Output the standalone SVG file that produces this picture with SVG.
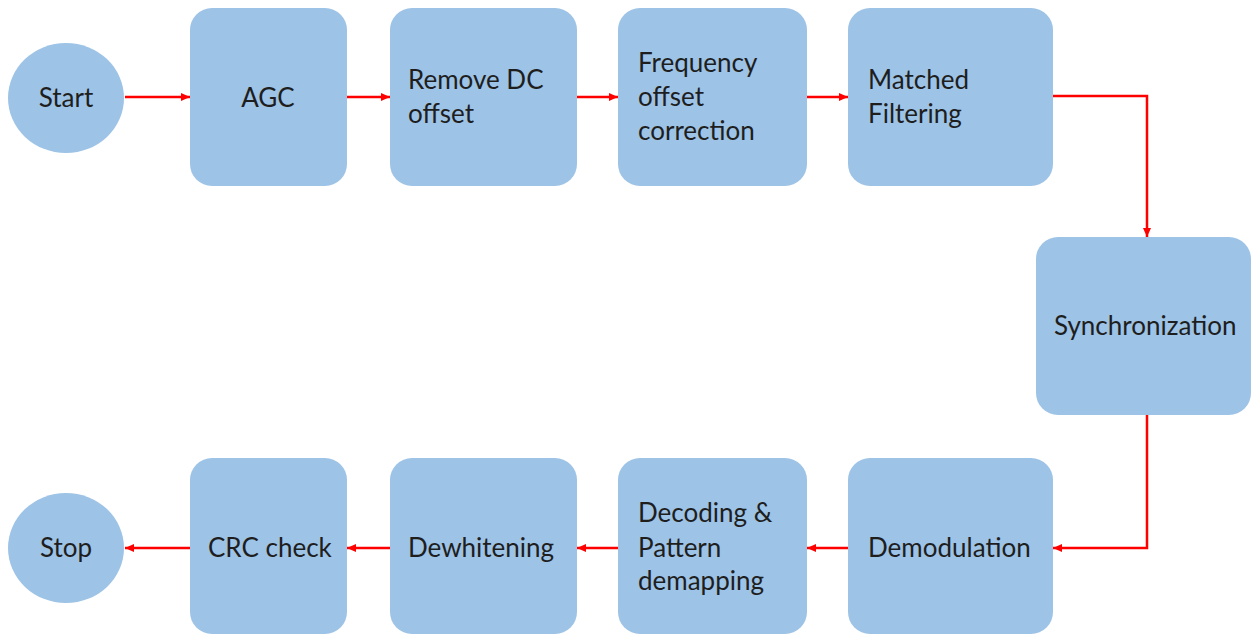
<svg xmlns="http://www.w3.org/2000/svg" width="1252" height="635" viewBox="0 0 1252 635">
<style>
.n{fill:#9DC3E6;}
.t{font-family:Lato,"Liberation Sans",sans-serif;font-size:26px;fill:#1E1E1E;}
.c{fill:none;stroke:#FF0000;stroke-width:2.5;marker-end:url(#ah);}
</style>
<defs>
<marker id="ah" markerUnits="userSpaceOnUse" markerWidth="10" markerHeight="10" refX="9" refY="5" orient="auto">
<path d="M0,1 L9,5 L0,9 Z" fill="#FF0000"/>
</marker>
</defs>
<rect width="1252" height="635" fill="#FFFFFF"/>
<g id="connectors">
<path class="c" d="M125,97 H190"/>
<path class="c" d="M347,97 H390"/>
<path class="c" d="M577,97 H618"/>
<path class="c" d="M807,97 H848"/>
<path class="c" d="M1053,96 H1147 V237"/>
<path class="c" d="M1147,415 V548 H1053"/>
<path class="c" d="M848,548 H807"/>
<path class="c" d="M618,548 H577"/>
<path class="c" d="M390,548 H347"/>
<path class="c" d="M190,548 H125"/>
</g>
<g id="start"><ellipse class="n" cx="66" cy="98" rx="58" ry="55"/><text class="t" x="66" y="107" text-anchor="middle">Start</text></g>
<g id="agc"><rect class="n" x="190" y="8" width="157" height="178" rx="22"/><text class="t" x="268" y="107" text-anchor="middle">AGC</text></g>
<g id="removedc"><rect class="n" x="390" y="8" width="187" height="178" rx="22"/><text class="t" x="408" y="89">Remove DC</text><text class="t" x="408" y="123">offset</text></g>
<g id="freq"><rect class="n" x="618" y="8" width="189" height="178" rx="22"/><text class="t" x="638" y="72">Frequency</text><text class="t" x="638" y="106">offset</text><text class="t" x="638" y="140">correction</text></g>
<g id="matched"><rect class="n" x="848" y="8" width="205" height="178" rx="22"/><text class="t" x="868" y="89">Matched</text><text class="t" x="868" y="123">Filtering</text></g>
<g id="sync"><rect class="n" x="1036" y="237" width="215" height="178" rx="22"/><text class="t" x="1054" y="335">Synchronization</text></g>
<g id="demod"><rect class="n" x="848" y="458" width="205" height="176" rx="22"/><text class="t" x="868" y="557">Demodulation</text></g>
<g id="decoding"><rect class="n" x="618" y="458" width="189" height="176" rx="22"/><text class="t" x="638" y="522">Decoding &amp;</text><text class="t" x="638" y="557">Pattern</text><text class="t" x="638" y="590">demapping</text></g>
<g id="dewhitening"><rect class="n" x="390" y="458" width="187" height="176" rx="22"/><text class="t" x="408" y="557">Dewhitening</text></g>
<g id="crc"><rect class="n" x="190" y="458" width="157" height="176" rx="22"/><text class="t" x="208" y="557">CRC check</text></g>
<g id="stop"><ellipse class="n" cx="66" cy="548" rx="58" ry="55"/><text class="t" x="66" y="557" text-anchor="middle">Stop</text></g>
</svg>
